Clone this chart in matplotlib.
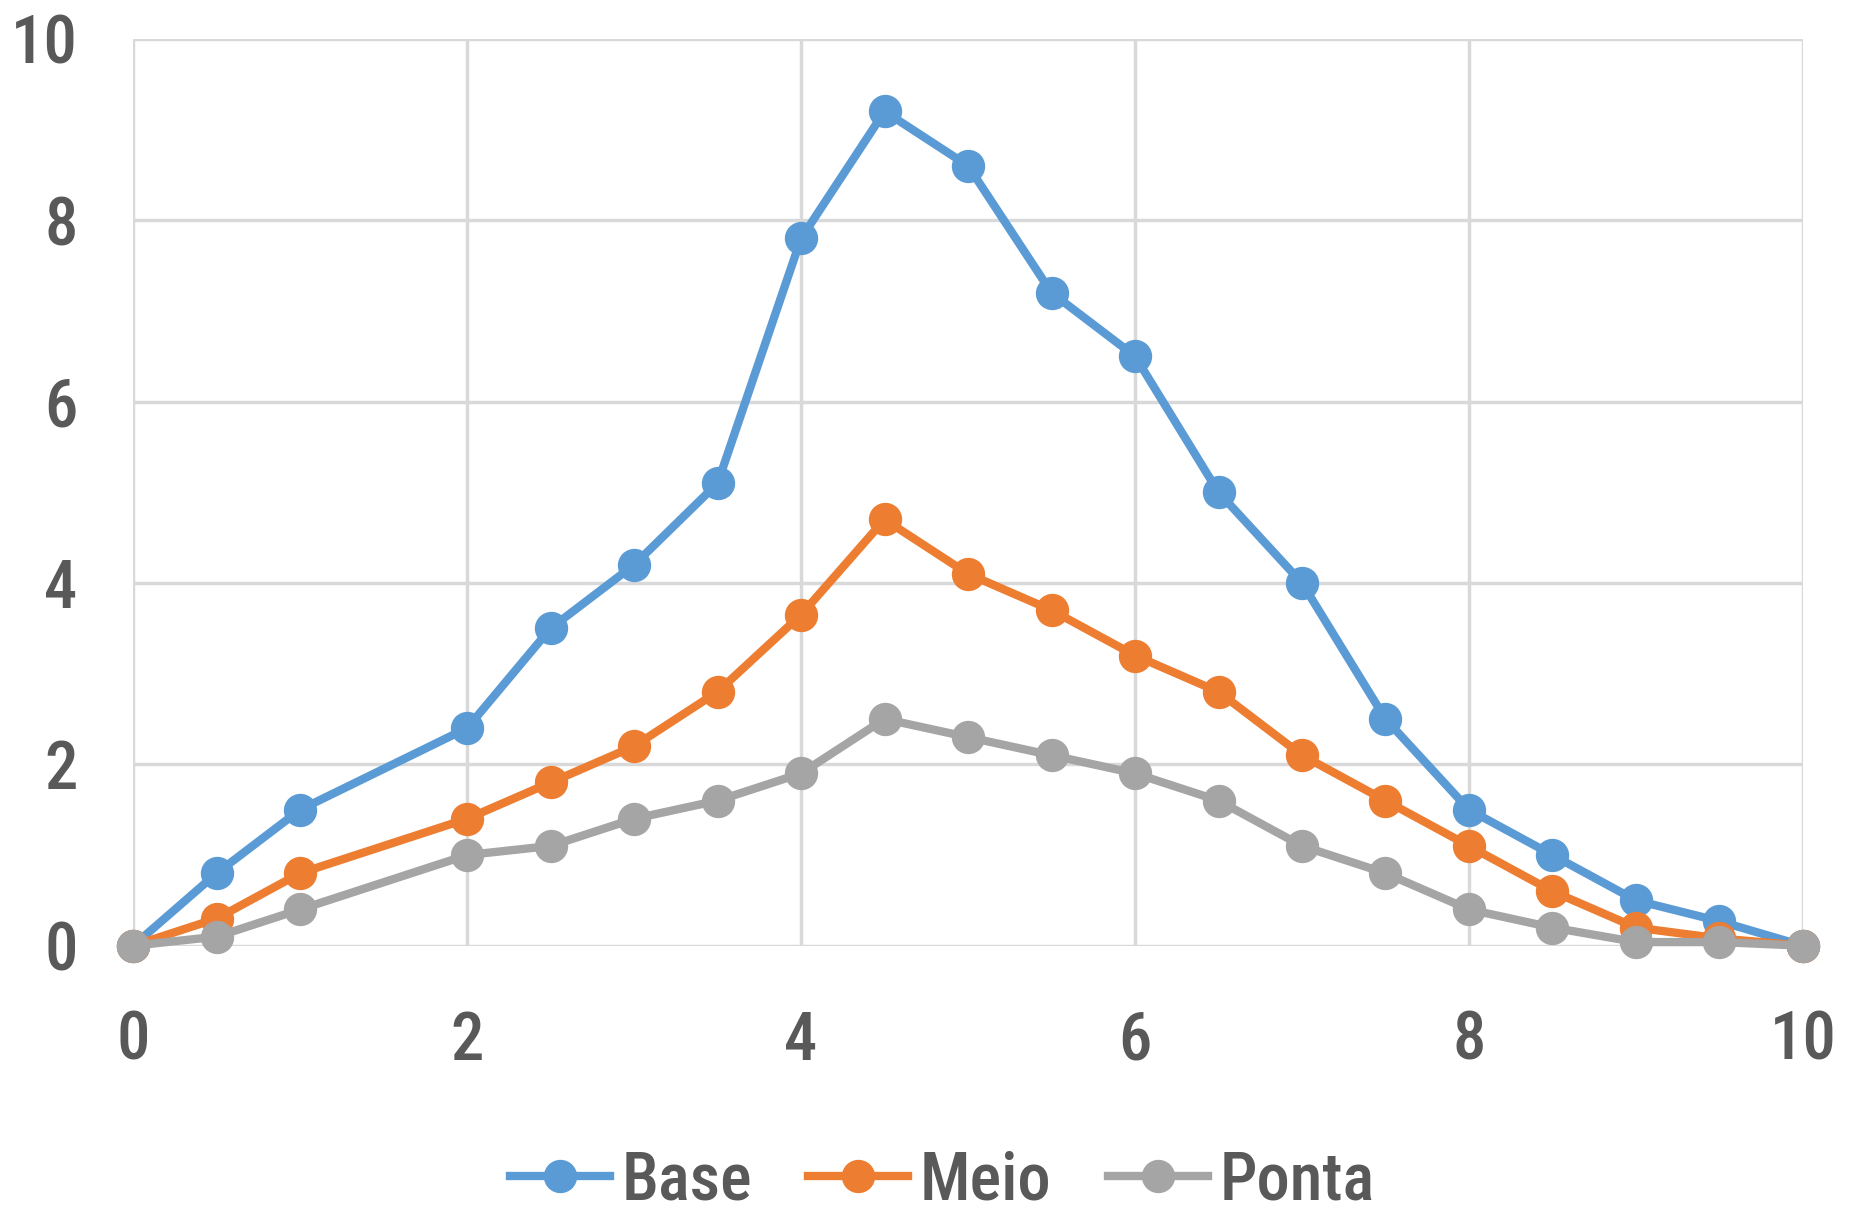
import matplotlib
matplotlib.use("Agg")
import matplotlib.pyplot as plt
from matplotlib import font_manager

x = [0, 0.5, 1, 2, 2.5, 3, 3.5, 4, 4.5, 5, 5.5, 6, 6.5, 7, 7.5, 8, 8.5, 9, 9.5, 10]
base = [0, 0.8, 1.5, 2.4, 3.5, 4.2, 5.1, 7.8, 9.2, 8.6, 7.2, 6.5, 5.0, 4.0, 2.5, 1.5, 1.0, 0.5, 0.27, 0]
meio = [0, 0.3, 0.8, 1.4, 1.8, 2.2, 2.8, 3.65, 4.7, 4.1, 3.7, 3.2, 2.8, 2.1, 1.6, 1.1, 0.6, 0.2, 0.08, 0]
ponta = [0, 0.1, 0.4, 1.0, 1.1, 1.4, 1.6, 1.9, 2.5, 2.3, 2.1, 1.9, 1.6, 1.1, 0.8, 0.4, 0.2, 0.04, 0.04, 0]
labels = ["Base", "Meio", "Ponta"]
colors = ["#5B9BD5", "#ED7D31", "#A5A5A5"]
xticks = [0, 2, 4, 6, 8, 10]
yticks = [0, 2, 4, 6, 8, 10]

fonts = font_manager.fontManager.ttflist
names = {f.name for f in fonts}
stretch = "normal"
fam = None
for cand in ["Roboto Condensed", "Open Sans Condensed", "Liberation Sans Narrow", "Noto Sans Condensed"]:
    if cand in names:
        fam = cand
        break
if fam is None:
    fam = "DejaVu Sans"
    if any(f.name == "DejaVu Sans" and str(f.stretch) == "condensed" for f in fonts):
        stretch = "condensed"
plt.rcParams["font.family"] = [fam, "DejaVu Sans"]
plt.rcParams["font.stretch"] = stretch
plt.rcParams["font.weight"] = 500
txt = "#595959"
fs = 48

fig = plt.figure(figsize=(18.51, 12.14), dpi=100)
ax = fig.add_axes([0.072, 0.221, 0.902, 0.747])
for s, lab, c in zip([base, meio, ponta], labels, colors):
    ax.plot(x, s, color=c, lw=6, marker="o", ms=23, label=lab, clip_on=False, zorder=3)

ax.set_xlim(0, 10)
ax.set_ylim(0, 10)
ax.set_xticks(xticks)
ax.set_yticks(yticks)
ax.set_xticklabels([str(v) for v in xticks])
ax.set_yticklabels([str(v) for v in yticks])
ax.grid(True, color="#D9D9D9", lw=2.5)
ax.set_axisbelow(True)
for sp in ax.spines.values():
    sp.set_visible(False)
ax.tick_params(axis="both", length=0, labelsize=fs, colors=txt)
ax.tick_params(axis="y", pad=40)
ax.tick_params(axis="x", pad=46)

leg = fig.legend(loc="center", bbox_to_anchor=(0.509, 0.027), ncol=3, frameon=False,
                 fontsize=fs, handlelength=1.5, handletextpad=0.17, columnspacing=0.85,
                 markerscale=1.0, borderpad=0.1)
for t in leg.get_texts():
    t.set_color(txt)

fig.savefig("out.png", dpi=100, facecolor="white")
